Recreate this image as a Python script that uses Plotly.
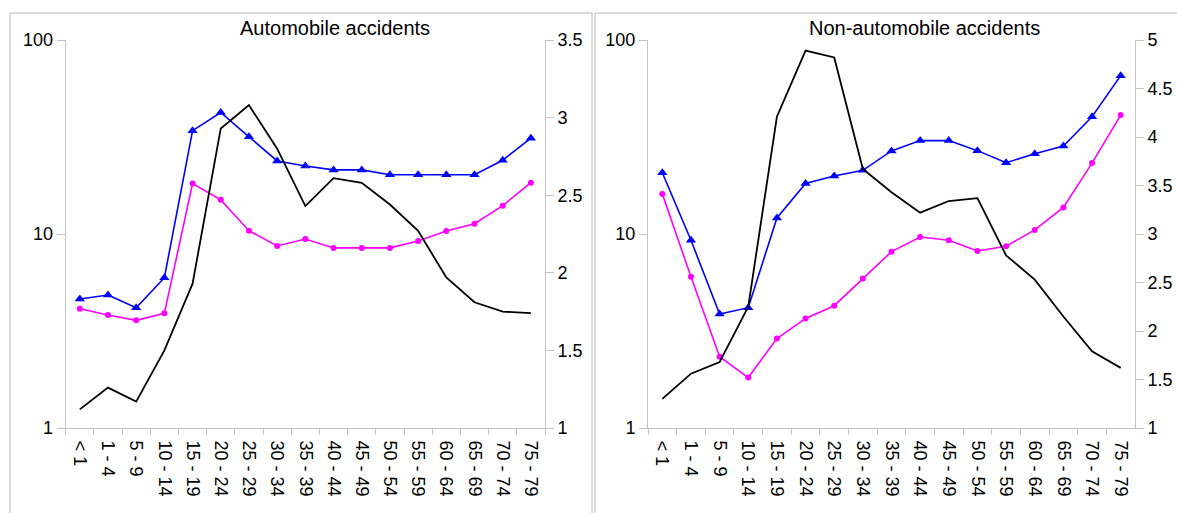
import plotly.graph_objects as go

categories = ["< 1", "1 - 4", "5 - 9", "10 - 14", "15 - 19", "20 - 24", "25 - 29", "30 - 34",
              "35 - 39", "40 - 44", "45 - 49", "50 - 54", "55 - 59", "60 - 64", "65 - 69",
              "70 - 74", "75 - 79"]

# Automobile accidents
auto_blue = [4.62, 4.85, 4.17, 5.95, 34.1, 42.3, 31.7, 23.8, 22.4, 21.4, 21.4, 20.2, 20.2, 20.2, 20.2, 24.0, 31.2]
auto_magenta = [4.12, 3.82, 3.59, 3.90, 18.2, 15.0, 10.4, 8.67, 9.42, 8.48, 8.48, 8.48, 9.2, 10.35, 11.3, 14.0, 18.4]
auto_black = [1.12, 1.26, 1.17, 1.50, 1.93, 2.93, 3.08, 2.80, 2.43, 2.61, 2.58, 2.44, 2.27, 1.97, 1.81, 1.75, 1.74]

# Non-automobile accidents
non_blue = [20.7, 9.28, 3.87, 4.17, 12.1, 18.2, 19.9, 21.3, 26.8, 30.3, 30.3, 26.9, 23.3, 25.9, 28.4, 40.2, 65.5]
non_magenta = [16.1, 6.02, 2.33, 1.82, 2.89, 3.67, 4.27, 5.89, 8.11, 9.65, 9.28, 8.17, 8.65, 10.5, 13.7, 23.2, 41.0]
non_black = [1.30, 1.56, 1.68, 2.25, 4.21, 4.89, 4.82, 3.67, 3.43, 3.22, 3.34, 3.37, 2.78, 2.53, 2.15, 1.79, 1.62]

log_ticks = [1, 10, 100]
titles = ["Automobile accidents", "Non-automobile accidents"]

W, H = 1177, 513
FONT = "Liberation Sans, Arial, sans-serif"
AX = "#c4c4c4"

def px(x):
    return x / W

def py(y):
    return 1 - y / H

fig = go.Figure()

def add_panel(xa, ya, ya2, blue, magenta, black):
    fig.add_trace(go.Scatter(x=categories, y=blue, xaxis=xa, yaxis=ya, mode="lines+markers",
                             line=dict(color="#0000ff", width=1.6),
                             marker=dict(symbol="triangle-up", size=9, color="#0000ff"),
                             showlegend=False))
    fig.add_trace(go.Scatter(x=categories, y=magenta, xaxis=xa, yaxis=ya, mode="lines+markers",
                             line=dict(color="#ff00ff", width=1.6),
                             marker=dict(symbol="circle", size=6, color="#ff00ff"),
                             showlegend=False))
    fig.add_trace(go.Scatter(x=categories, y=black, xaxis=xa, yaxis=ya2, mode="lines",
                             line=dict(color="#000000", width=1.8),
                             showlegend=False))

add_panel("x", "y", "y2", auto_blue, auto_magenta, auto_black)
add_panel("x2", "y3", "y4", non_blue, non_magenta, non_black)

ydom = [py(428), py(40)]
tickfont = dict(family=FONT, size=18, color="#000000")

xcommon = dict(type="category", range=[-0.5, 16.5], tickangle=90, showline=True, linecolor=AX,
               linewidth=1, ticks="outside", tickson="boundaries", ticklen=6, tickcolor=AX,
               showgrid=False, zeroline=False, tickfont=tickfont, automargin=False,
               ticklabelstandoff=8)
ylog = dict(type="log", range=[0, 2], tickvals=log_ticks, ticktext=[str(v) for v in log_ticks],
            showline=True, linecolor=AX, ticks="outside", ticklen=8, tickcolor=AX,
            showgrid=False, zeroline=False, tickfont=tickfont, automargin=False, domain=ydom)
ylin = dict(side="right", showline=True, linecolor=AX, ticks="outside", ticklen=8, tickcolor=AX,
            showgrid=False, zeroline=False, tickfont=tickfont, automargin=False, dtick=0.5, tick0=1)

fig.update_layout(
    width=W, height=H, margin=dict(l=0, r=0, t=0, b=0),
    paper_bgcolor="white", plot_bgcolor="white",
    font=dict(family=FONT, color="#000000"),
    xaxis=dict(domain=[px(65.7), px(545)], anchor="y", **xcommon),
    yaxis=dict(anchor="x", **ylog),
    yaxis2=dict(anchor="x", overlaying="y", range=[1, 3.5], **ylin),
    xaxis2=dict(domain=[px(648), px(1135)], anchor="y3", **xcommon),
    yaxis3=dict(anchor="x2", **ylog),
    yaxis4=dict(anchor="x2", overlaying="y3", range=[1, 5], **ylin),
    shapes=[
        dict(type="rect", xref="paper", yref="paper", x0=px(10), x1=px(592), y0=-0.02, y1=py(13),
             line=dict(color="#b8b8b8", width=1)),
        dict(type="rect", xref="paper", yref="paper", x0=px(595), x1=1.02, y0=-0.02, y1=py(13),
             line=dict(color="#b8b8b8", width=1)),
    ],
    annotations=[
        dict(text=titles[0], xref="paper", yref="paper", x=px(335), y=py(28), showarrow=False,
             xanchor="center", yanchor="middle", font=dict(family=FONT, size=20, color="#000000")),
        dict(text=titles[1], xref="paper", yref="paper", x=px(924), y=py(28), showarrow=False,
             xanchor="center", yanchor="middle", font=dict(family=FONT, size=20, color="#000000")),
    ],
)

fig.write_html("out.html")
